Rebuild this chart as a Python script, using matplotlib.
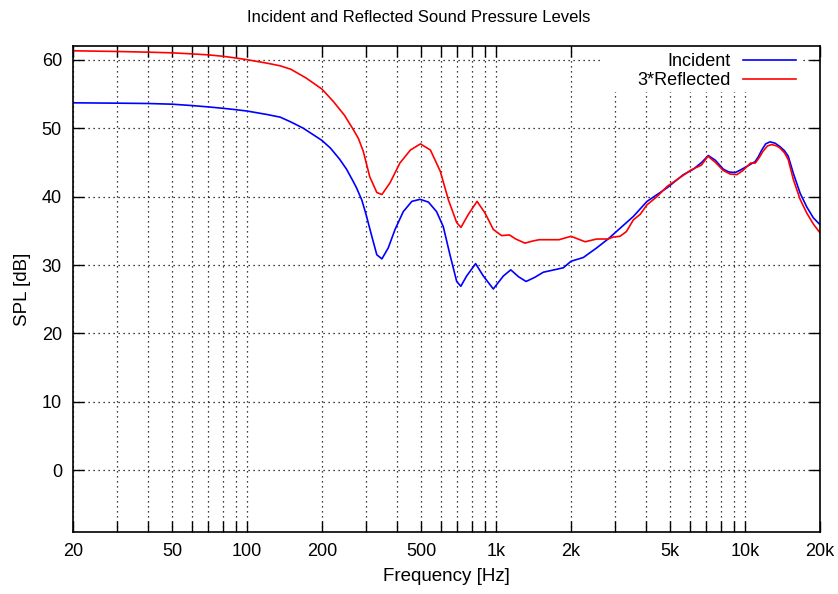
import matplotlib
matplotlib.use("Agg")
import matplotlib.pyplot as plt
from matplotlib.patches import Rectangle
import numpy as np

plt.rcParams['font.family'] = ['Liberation Sans', 'DejaVu Sans']

# Incident curve (frequency Hz, SPL dB)
inc_freq = [20, 30, 40, 50, 60, 70, 80, 90, 100, 120, 136, 150, 168, 200, 216, 235, 251, 267,
            275, 289, 300, 317, 332, 348, 369, 393, 424, 459, 495, 535, 577, 614, 653,
            695, 722, 762, 828, 889, 975, 1070, 1146, 1230, 1320, 1430, 1548, 1863, 2000,
            2241, 2535, 2817, 2960, 3560, 4040, 4870, 5651, 6200, 6700, 7120, 7600, 8185,
            8600, 9120, 9600, 10160, 10970, 11300, 11670, 12100, 12600, 13200, 13810, 14400,
            14910, 15630, 16640, 17690, 18800, 20000]
inc_spl = [53.7, 53.65, 53.6, 53.5, 53.3, 53.1, 52.9, 52.7, 52.5, 52.0, 51.6, 50.9, 50.0, 48.2, 47.1, 45.5, 44.0, 42.2,
           41.3, 39.5, 37.5, 34.2, 31.5, 30.9, 32.5, 35.2, 37.8, 39.3, 39.6, 39.2, 37.8, 35.6, 31.5,
           27.6, 26.9, 28.4, 30.2, 28.4, 26.5, 28.4, 29.3, 28.3, 27.6, 28.2, 28.95, 29.6, 30.55,
           31.1, 32.5, 33.8, 34.5, 37.1, 39.3, 41.3, 43.2, 44.0, 45.0, 46.0, 45.3, 44.0,
           43.6, 43.5, 43.9, 44.4, 45.1, 45.8, 46.8, 47.7, 48.0, 47.8, 47.3, 46.7,
           45.9, 43.4, 40.5, 38.5, 36.9, 35.9]

# 3*Reflected curve
ref_freq = [20, 30, 40, 50, 60, 70, 80, 90, 100, 120, 136, 150, 173, 200, 222, 246, 267, 280,
            293, 311, 332, 348, 375, 411, 453, 497, 545, 597, 644, 695, 723, 774, 839,
            903, 975, 1053, 1131, 1200, 1307, 1400, 1490, 1790, 2000, 2280, 2535, 2817, 2960,
            3148, 3340, 3560, 3790, 4040, 4430, 4870, 5540, 6080, 6680, 7100, 7600, 8185,
            8700, 9260, 9800, 10520, 11000, 11400, 11800, 12300, 12800, 13400, 13810, 14400,
            14910, 15630, 16640, 17690, 18800, 20000]
ref_spl = [61.3, 61.2, 61.1, 61.0, 60.85, 60.7, 60.5, 60.25, 60.0, 59.5, 59.1, 58.6, 57.3, 55.7, 53.9, 51.9, 49.8, 48.5,
           46.6, 42.9, 40.6, 40.3, 42.0, 44.9, 46.8, 47.7, 46.8, 43.7, 39.5, 36.2, 35.5, 37.4, 39.3,
           37.6, 35.2, 34.3, 34.4, 33.8, 33.2, 33.5, 33.7, 33.7, 34.2, 33.4, 33.8, 33.8, 34.1,
           34.2, 34.9, 36.6, 37.4, 38.8, 40.0, 41.5, 42.9, 43.9, 44.6, 45.9, 45.0, 43.8,
           43.3, 43.2, 43.8, 44.9, 44.9, 45.7, 46.6, 47.4, 47.6, 47.4, 47.1, 46.4,
           45.4, 42.5, 39.6, 37.6, 36.0, 34.7]

major_x = [20, 50, 100, 200, 500, 1000, 2000, 5000, 10000, 20000]
major_x_labels = ['20', '50', '100', '200', '500', '1k', '2k', '5k', '10k', '20k']
minor_x = [30, 40, 60, 70, 80, 90, 300, 400, 600, 700, 800, 900,
           3000, 4000, 6000, 7000, 8000, 9000]
y_ticks = [0, 10, 20, 30, 40, 50, 60]

W, H = 838, 594
fig = plt.figure(figsize=(W / 100, H / 100), dpi=100)
ax = fig.add_axes([73 / W, 62 / H, 747 / W, 486 / H])

ax.plot(inc_freq, inc_spl, color='#0000ff', lw=1.2, label='Incident', zorder=3)
ax.plot(ref_freq, ref_spl, color='#ff0000', lw=1.2, label='3*Reflected', zorder=3)

ax.set_xscale('log')
ax.set_xlim(20, 20000)
ax.set_ylim(-9, 62)
ax.set_xticks(major_x)
ax.set_xticklabels(major_x_labels)
ax.set_xticks(minor_x, minor=True)
ax.xaxis.set_minor_formatter(matplotlib.ticker.NullFormatter())
ax.set_yticks(y_ticks)

ax.tick_params(axis='both', which='both', direction='in', length=8, width=1,
               top=True, right=True, labelsize=13, pad=8)
ax.grid(True, which='both', axis='x', color='black', linestyle=(0, (1, 3)), lw=0.9)
ax.grid(True, which='major', axis='y', color='black', linestyle=(0, (1, 3)), lw=0.9)
for s in ax.spines.values():
    s.set_linewidth(1.2)
    s.set_zorder(4)

# white key background (covers grid as in gnuplot)
ax.add_patch(Rectangle(((603 - 73) / 747, 1 - (92 - 46) / 486), (803 - 603) / 747, (92 - 46) / 486,
                       transform=ax.transAxes, facecolor='white', edgecolor='none', zorder=1.8))

ax.set_xlabel('Frequency [Hz]', fontsize=13.5, labelpad=6)
ax.set_ylabel('SPL [dB]', fontsize=13.5, labelpad=8)
fig.text(419 / W, 1 - 18 / H, 'Incident and Reflected Sound Pressure Levels',
         ha='center', va='center', fontsize=12)

leg = ax.legend(loc='upper right', bbox_to_anchor=((803 - 73) / 747, 1.0),
                markerfirst=False, frameon=False, fontsize=13,
                handlelength=2.9, borderaxespad=0.0, labelspacing=0.1, handletextpad=0.7,
                borderpad=0.4)
leg.set_zorder(5)

fig.savefig('out.png', dpi=100)
